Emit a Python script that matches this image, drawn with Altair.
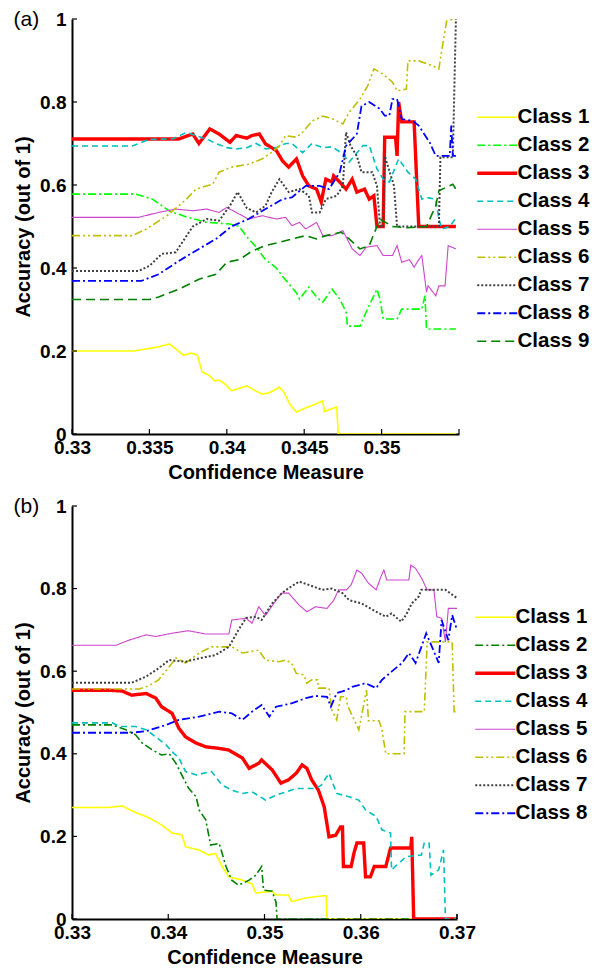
import altair as alt
import pandas as pd

FONT = "Liberation Sans"
Y_TICKS = [0, 0.2, 0.4, 0.6, 0.8, 1]

# ---------------- Panel (a) ----------------
CLASSES_A = ["Class 1", "Class 2", "Class 3", "Class 4", "Class 5",
             "Class 6", "Class 7", "Class 8", "Class 9"]
COLORS_A = ["#ffff00", "#00ff00", "#ff0000", "#00bfbf", "#cc44cc",
            "#bfbf00", "#404040", "#0000ff", "#008000"]
DASHES_A = [[1, 0], [8, 3, 2, 3], [1, 0], [6, 4], [1, 0],
            [8, 3, 2, 3, 2, 3], [2, 2], [8, 3, 2, 3], [9, 5]]
WIDTHS_A = [1.6, 1.6, 3.4, 1.6, 1.1, 1.6, 2.0, 1.8, 1.6]
X_TICKS_A = [0.33, 0.335, 0.34, 0.345, 0.35]
X_DOMAIN_A = [0.33, 0.355]

A1_X = [0.33, 0.334, 0.3356, 0.3363, 0.3367, 0.3372, 0.3377, 0.3381, 0.3384, 0.3389, 0.3392, 0.3395, 0.3399,
        0.3403, 0.3408, 0.3413, 0.3418, 0.3423, 0.3428, 0.3434, 0.3437, 0.3441, 0.3445, 0.3451, 0.3456, 0.3462,
        0.3463, 0.3467, 0.3471, 0.3472, 0.3548]
A1_Y = [0.2, 0.2, 0.21, 0.217, 0.205, 0.19, 0.195, 0.19, 0.15, 0.14, 0.128, 0.13, 0.12,
        0.104, 0.11, 0.116, 0.105, 0.096, 0.10, 0.113, 0.10, 0.07, 0.053, 0.063, 0.07, 0.08,
        0.054, 0.06, 0.065, 0.0, 0.0]

A2_X = [0.33, 0.3341, 0.3352, 0.3363, 0.3374, 0.3387, 0.3402, 0.3408, 0.3413, 0.3419, 0.3425, 0.3432, 0.3436,
        0.3445, 0.3447, 0.3453, 0.3458, 0.3462, 0.3468, 0.3473, 0.3477, 0.3478, 0.3486, 0.3490, 0.3497, 0.3499,
        0.3501, 0.3510, 0.3513, 0.3526, 0.3528, 0.3529, 0.3548]
A2_Y = [0.578, 0.578, 0.566, 0.537, 0.523, 0.51, 0.506, 0.50, 0.475, 0.45, 0.42, 0.40, 0.38,
        0.34, 0.325, 0.354, 0.33, 0.318, 0.349, 0.325, 0.294, 0.26, 0.26, 0.294, 0.349, 0.325,
        0.277, 0.277, 0.301, 0.301, 0.333, 0.253, 0.253]

A3_X = [0.33, 0.3345, 0.3369, 0.3378, 0.3382, 0.3389, 0.3395, 0.3402, 0.3406, 0.3413, 0.3416, 0.3421, 0.3425,
        0.3432, 0.3436, 0.3440, 0.3445, 0.3449, 0.3453, 0.3458, 0.3461, 0.3464, 0.3468, 0.3469, 0.3473, 0.3477,
        0.3481, 0.3484, 0.3489, 0.3492, 0.3495, 0.3497, 0.3501, 0.3502, 0.3509, 0.3510, 0.3511, 0.3513, 0.3521,
        0.3524, 0.3548]
A3_Y = [0.711, 0.711, 0.711, 0.723, 0.70, 0.735, 0.723, 0.703, 0.719, 0.713, 0.719, 0.723, 0.699,
        0.683, 0.658, 0.643, 0.663, 0.622, 0.598, 0.59, 0.559, 0.614, 0.607, 0.622, 0.607, 0.59,
        0.614, 0.583, 0.59, 0.566, 0.574, 0.5, 0.5, 0.715, 0.715, 0.67, 0.80, 0.752, 0.752,
        0.5, 0.5]

A4_X = [0.33, 0.3339, 0.3350, 0.3365, 0.3374, 0.3380, 0.3387, 0.3393, 0.3400, 0.3406, 0.3413, 0.3419, 0.3425,
        0.3432, 0.3438, 0.3442, 0.3449, 0.3455, 0.3462, 0.3468, 0.3475, 0.3479, 0.3488, 0.3492, 0.3497, 0.3501,
        0.3505, 0.3511, 0.3517, 0.3522, 0.3526, 0.3529, 0.3535, 0.3537, 0.3539, 0.3544, 0.3548]
A4_Y = [0.694, 0.694, 0.71, 0.711, 0.727, 0.719, 0.711, 0.70, 0.69, 0.687, 0.69, 0.70, 0.687,
        0.69, 0.70, 0.70, 0.678, 0.70, 0.69, 0.692, 0.675, 0.655, 0.695, 0.695, 0.639, 0.614,
        0.607, 0.663, 0.631, 0.614, 0.566, 0.57, 0.566, 0.518, 0.494, 0.50, 0.52]

A5_X = [0.33, 0.3343, 0.3356, 0.3367, 0.3378, 0.3387, 0.3395, 0.3400, 0.3406, 0.3414, 0.3423, 0.3432, 0.3438,
        0.3442, 0.3447, 0.3451, 0.3458, 0.3462, 0.3468, 0.3475, 0.3481, 0.3486, 0.3490, 0.3497, 0.3501, 0.3507,
        0.3510, 0.3513, 0.3518, 0.3521, 0.3524, 0.3526, 0.3529, 0.3530, 0.3535, 0.3537, 0.3541, 0.3543, 0.3548]
A5_Y = [0.522, 0.522, 0.534, 0.542, 0.538, 0.542, 0.534, 0.546, 0.534, 0.518, 0.526, 0.518, 0.522,
        0.502, 0.51, 0.494, 0.51, 0.478, 0.478, 0.49, 0.446, 0.43, 0.45, 0.454, 0.43, 0.43,
        0.454, 0.414, 0.42, 0.402, 0.42, 0.43, 0.342, 0.357, 0.333, 0.357, 0.357, 0.454, 0.446]

A6_X = [0.33, 0.3339, 0.3348, 0.3361, 0.3374, 0.3380, 0.3391, 0.3395, 0.3403, 0.3414, 0.3423, 0.3429, 0.3434,
        0.3438, 0.3445, 0.3449, 0.3455, 0.3462, 0.3468, 0.3475, 0.3479, 0.3486, 0.3491, 0.3495, 0.3501, 0.3507,
        0.3510, 0.3516, 0.3517, 0.3524, 0.3533, 0.3537, 0.3539, 0.3542, 0.3547, 0.3548]
A6_Y = [0.478, 0.478, 0.494, 0.525, 0.566, 0.59, 0.602, 0.631, 0.643, 0.65, 0.663, 0.679, 0.694,
        0.719, 0.715, 0.727, 0.754, 0.766, 0.76, 0.747, 0.775, 0.807, 0.839, 0.88, 0.867, 0.848,
        0.827, 0.831, 0.899, 0.899, 0.887, 0.88, 0.928, 0.995, 1.0, 1.0]

A7_X = [0.33, 0.3343, 0.3350, 0.3358, 0.3367, 0.3378, 0.3387, 0.3395, 0.3402, 0.3407, 0.3413, 0.3419, 0.3425,
        0.3429, 0.3434, 0.3440, 0.3447, 0.3453, 0.3455, 0.3460, 0.3464, 0.3471, 0.3475, 0.3477, 0.3480, 0.3484,
        0.3487, 0.3494, 0.3497, 0.3499, 0.3501, 0.3502, 0.3508, 0.3510, 0.3537, 0.3538, 0.3546, 0.3548]
A7_Y = [0.393, 0.393, 0.405, 0.434, 0.438, 0.50, 0.518, 0.514, 0.55, 0.583, 0.544, 0.534, 0.55,
        0.583, 0.614, 0.583, 0.59, 0.574, 0.534, 0.534, 0.566, 0.574, 0.598, 0.727, 0.694, 0.67,
        0.631, 0.631, 0.598, 0.5, 0.5, 0.67, 0.598, 0.5, 0.5, 0.667, 0.667, 1.0]

A8_X = [0.33, 0.3345, 0.3356, 0.3369, 0.3382, 0.3393, 0.3403, 0.3414, 0.3425, 0.3436, 0.3442, 0.3451, 0.3460,
        0.3466, 0.3473, 0.3477, 0.3484, 0.3487, 0.3492, 0.3499, 0.3502, 0.3505, 0.3507, 0.3510, 0.3513, 0.3520,
        0.3524, 0.3531, 0.3535, 0.3544, 0.3545, 0.3546, 0.3548]
A8_Y = [0.369, 0.369, 0.385, 0.417, 0.446, 0.47, 0.50, 0.518, 0.542, 0.566, 0.57, 0.598, 0.598,
        0.59, 0.631, 0.694, 0.723, 0.79, 0.80, 0.783, 0.767, 0.767, 0.807, 0.807, 0.759, 0.755,
        0.743, 0.703, 0.67, 0.67, 0.743, 0.67, 0.67]

A9_X = [0.33, 0.3350, 0.3356, 0.3369, 0.3382, 0.3393, 0.3400, 0.3408, 0.3416, 0.3425, 0.3434, 0.3442, 0.3451,
        0.3458, 0.3464, 0.3474, 0.3479, 0.3486, 0.3492, 0.3497, 0.3499, 0.3507, 0.3516, 0.3529, 0.3535, 0.3537,
        0.3546, 0.3548]
A9_Y = [0.324, 0.324, 0.330, 0.349, 0.373, 0.385, 0.414, 0.42, 0.44, 0.454, 0.462, 0.47, 0.478,
        0.47, 0.478, 0.486, 0.47, 0.446, 0.454, 0.50, 0.518, 0.50, 0.497, 0.50, 0.55, 0.586,
        0.602, 0.59]

# ---------------- Panel (b) ----------------
CLASSES_B = ["Class 1", "Class 2", "Class 3", "Class 4", "Class 5",
             "Class 6", "Class 7", "Class 8"]
COLORS_B = ["#ffff00", "#008000", "#ff0000", "#00bfbf", "#cc44cc",
            "#bfbf00", "#404040", "#0000ff"]
DASHES_B = [[1, 0], [8, 3, 2, 3], [1, 0], [6, 4], [1, 0],
            [8, 3, 2, 3, 2, 3], [2, 2], [8, 3, 2, 3]]
WIDTHS_B = [1.6, 1.6, 3.4, 1.6, 1.1, 1.6, 2.0, 1.8]
X_TICKS_B = [0.33, 0.34, 0.35, 0.36, 0.37]
X_DOMAIN_B = [0.33, 0.37]

B1_X = [0.33, 0.3338, 0.3352, 0.3362, 0.3380, 0.3393, 0.3404, 0.3414, 0.3418, 0.3432, 0.3442, 0.3449, 0.3456,
        0.3463, 0.3477, 0.3487, 0.3491, 0.3508, 0.3512, 0.3525, 0.3528, 0.3543, 0.3560, 0.3564, 0.3565, 0.37]
B1_Y = [0.27, 0.27, 0.274, 0.262, 0.245, 0.228, 0.208, 0.204, 0.175, 0.167, 0.155, 0.159, 0.127,
        0.102, 0.094, 0.085, 0.063, 0.067, 0.058, 0.058, 0.042, 0.051, 0.056, 0.056, 0.0, 0.0]

B2_X = [0.33, 0.3342, 0.3356, 0.3366, 0.3373, 0.3383, 0.3393, 0.3401, 0.3408, 0.3414, 0.3421, 0.3429, 0.3432,
        0.3439, 0.3444, 0.3453, 0.3460, 0.3466, 0.3473, 0.3484, 0.3491, 0.3497, 0.3499, 0.3508, 0.3512, 0.3513,
        0.3655]
B2_Y = [0.47, 0.47, 0.458, 0.446, 0.426, 0.41, 0.397, 0.40, 0.377, 0.349, 0.317, 0.296, 0.264,
        0.24, 0.179, 0.183, 0.127, 0.094, 0.082, 0.094, 0.106, 0.127, 0.07, 0.067, 0.04, 0.0,
        0.0]

B3_X = [0.33, 0.3338, 0.3352, 0.3362, 0.3377, 0.3387, 0.3393, 0.3404, 0.3411, 0.3418, 0.3429, 0.3439, 0.3453,
        0.3463, 0.3477, 0.3484, 0.3494, 0.3497, 0.3508, 0.3517, 0.3525, 0.3533, 0.3539, 0.3544, 0.3549, 0.3556,
        0.3562, 0.3567, 0.3574, 0.3579, 0.3581, 0.3582, 0.3590, 0.3593, 0.3596, 0.3603, 0.3605, 0.3610, 0.3614,
        0.3626, 0.3631, 0.3652, 0.3653, 0.3655, 0.37]
B3_Y = [0.554, 0.554, 0.552, 0.542, 0.546, 0.535, 0.514, 0.498, 0.462, 0.441, 0.426, 0.417, 0.413,
        0.409, 0.39, 0.365, 0.377, 0.385, 0.361, 0.329, 0.337, 0.353, 0.373, 0.365, 0.337, 0.312,
        0.272, 0.199, 0.203, 0.223, 0.223, 0.127, 0.127, 0.16, 0.184, 0.184, 0.102, 0.102, 0.127,
        0.127, 0.172, 0.172, 0.199, 0.0, 0.0]

B4_X = [0.33, 0.3342, 0.3349, 0.3366, 0.3377, 0.3387, 0.3398, 0.3404, 0.3411, 0.3418, 0.3429, 0.3445, 0.3456,
        0.3466, 0.3477, 0.3487, 0.3501, 0.3512, 0.3533, 0.3553, 0.3559, 0.3567, 0.3575, 0.3588, 0.3598, 0.3605,
        0.3616, 0.3622, 0.3631, 0.3632, 0.3647, 0.3663, 0.3666, 0.3671, 0.3673, 0.3681, 0.3686, 0.3688, 0.37]
B4_Y = [0.475, 0.475, 0.466, 0.466, 0.458, 0.441, 0.421, 0.405, 0.39, 0.357, 0.349, 0.357, 0.324,
        0.312, 0.304, 0.308, 0.288, 0.30, 0.316, 0.316, 0.324, 0.353, 0.304, 0.296, 0.288, 0.264,
        0.248, 0.216, 0.208, 0.119, 0.151, 0.155, 0.184, 0.184, 0.106, 0.119, 0.167, 0.0, 0.0]

B5_X = [0.33, 0.3346, 0.3359, 0.3377, 0.3387, 0.3404, 0.3421, 0.3439, 0.3463, 0.3466, 0.3481, 0.3487, 0.3494,
        0.3501, 0.3512, 0.3518, 0.3525, 0.3536, 0.3544, 0.3553, 0.3565, 0.3572, 0.3577, 0.3585, 0.3590, 0.3596,
        0.3601, 0.3608, 0.3616, 0.3621, 0.3624, 0.3627, 0.3650, 0.3652, 0.3657, 0.3663, 0.3669, 0.3676, 0.3679,
        0.3684, 0.3688, 0.3691, 0.37]
B5_Y = [0.663, 0.663, 0.675, 0.688, 0.684, 0.692, 0.698, 0.69, 0.69, 0.724, 0.728, 0.716, 0.756,
        0.735, 0.772, 0.789, 0.789, 0.76, 0.744, 0.756, 0.752, 0.772, 0.797, 0.797, 0.809, 0.845,
        0.837, 0.813, 0.797, 0.829, 0.845, 0.821, 0.821, 0.857, 0.849, 0.826, 0.797, 0.797, 0.732,
        0.728, 0.671, 0.752, 0.752]

B6_X = [0.33, 0.3370, 0.3380, 0.3390, 0.3401, 0.3408, 0.3418, 0.3432, 0.3445, 0.3466, 0.3477, 0.3494, 0.3501,
        0.3515, 0.3522, 0.3528, 0.3533, 0.3541, 0.3544, 0.3549, 0.3555, 0.3556, 0.3567, 0.3570, 0.3575, 0.3579,
        0.3585, 0.3586, 0.3598, 0.3606, 0.3608, 0.3619, 0.3622, 0.3626, 0.3645, 0.3646, 0.3666, 0.3669, 0.3695,
        0.3697, 0.37]
B6_Y = [0.557, 0.557, 0.565, 0.579, 0.611, 0.632, 0.62, 0.644, 0.659, 0.659, 0.644, 0.651, 0.627,
        0.623, 0.627, 0.62, 0.595, 0.591, 0.571, 0.579, 0.579, 0.559, 0.559, 0.506, 0.482, 0.538,
        0.538, 0.518, 0.458, 0.554, 0.48, 0.48, 0.458, 0.40, 0.40, 0.502, 0.502, 0.671, 0.671,
        0.502, 0.502]

B7_X = [0.33, 0.3362, 0.3377, 0.3390, 0.3401, 0.3418, 0.3432, 0.3449, 0.3463, 0.3473, 0.3481, 0.3491, 0.3497,
        0.3508, 0.3518, 0.3525, 0.3536, 0.3546, 0.3560, 0.3570, 0.3581, 0.3588, 0.3601, 0.3616, 0.3626, 0.3632,
        0.3642, 0.3647, 0.3653, 0.3660, 0.3663, 0.3688, 0.37]
B7_Y = [0.572, 0.572, 0.587, 0.607, 0.627, 0.623, 0.631, 0.639, 0.659, 0.70, 0.729, 0.732, 0.724,
        0.764, 0.789, 0.801, 0.817, 0.809, 0.797, 0.80, 0.789, 0.772, 0.764, 0.744, 0.732, 0.74,
        0.72, 0.736, 0.764, 0.78, 0.797, 0.797, 0.777]

B8_X = [0.33, 0.3362, 0.3377, 0.3398, 0.3411, 0.3432, 0.3453, 0.3466, 0.3477, 0.3487, 0.3497, 0.3505, 0.3512,
        0.3528, 0.3543, 0.3553, 0.3565, 0.3569, 0.3575, 0.3585, 0.3591, 0.3605, 0.3616, 0.3622, 0.3632, 0.3643,
        0.3650, 0.3657, 0.3663, 0.3668, 0.3674, 0.3681, 0.3684, 0.3691, 0.3695, 0.37]
B8_Y = [0.451, 0.451, 0.455, 0.47, 0.482, 0.49, 0.502, 0.498, 0.482, 0.502, 0.518, 0.49, 0.514,
        0.522, 0.535, 0.54, 0.538, 0.514, 0.547, 0.554, 0.562, 0.571, 0.559, 0.579, 0.599, 0.62,
        0.644, 0.62, 0.659, 0.692, 0.659, 0.62, 0.724, 0.675, 0.736, 0.70]

SERIES_A = [(A1_X, A1_Y), (A2_X, A2_Y), (A3_X, A3_Y), (A4_X, A4_Y), (A5_X, A5_Y),
            (A6_X, A6_Y), (A7_X, A7_Y), (A8_X, A8_Y), (A9_X, A9_Y)]
SERIES_B = [(B1_X, B1_Y), (B2_X, B2_Y), (B3_X, B3_Y), (B4_X, B4_Y), (B5_X, B5_Y),
            (B6_X, B6_Y), (B7_X, B7_Y), (B8_X, B8_Y)]


def build_df(series, names, widths):
    rows = []
    for name, wd, (xs, ys) in zip(names, widths, series):
        for i, (x, y) in enumerate(zip(xs, ys)):
            rows.append({"cls": name, "x": x, "y": y, "i": i, "w": wd})
    return pd.DataFrame(rows)


def width_expr(classes, widths):
    parts = []
    for c, wd in zip(classes, widths):
        parts.append(f"datum.value === '{c}' ? {wd} : ")
    return "".join(parts) + "1.6"


def panel(series, label, classes, colors, dashes, widths, xdom, xticks, w, h, lx, ly):
    df = build_df(series, classes, widths)
    xs = alt.Scale(domain=xdom, nice=False, zero=False)
    ys = alt.Scale(domain=[0, 1], nice=False, zero=False)
    x_axis = alt.Axis(values=xticks, format=".3~f", title="Confidence Measure")
    y_axis = alt.Axis(values=Y_TICKS, format=".1~f", title="Accuracy (out of 1)")
    leg = alt.Legend(title=None, orient="none", legendX=lx, legendY=ly,
                     symbolType="stroke", symbolSize=1600, labelFontSize=20.5,
                     labelFont=FONT, labelFontWeight="bold", labelColor="black",
                     rowPadding=7, labelOffset=10,
                     symbolStrokeWidth=alt.ExprRef(expr=width_expr(classes, widths)))
    lines = alt.Chart(df).mark_line(clip=True).encode(
        x=alt.X("x:Q", scale=xs, axis=x_axis),
        y=alt.Y("y:Q", scale=ys, axis=y_axis),
        color=alt.Color("cls:N", scale=alt.Scale(domain=classes, range=colors), legend=leg),
        strokeDash=alt.StrokeDash("cls:N", scale=alt.Scale(domain=classes, range=dashes), legend=leg),
        strokeWidth=alt.StrokeWidth("w:Q", scale=None, legend=None),
        order=alt.Order("i:Q"),
    )
    xt = alt.Chart(pd.DataFrame({"x": xticks + [xdom[1]]})).mark_rule(
        color="black", strokeWidth=1.2).encode(
        x=alt.X("x:Q", scale=xs, axis=x_axis),
        y=alt.value(h), y2=alt.value(h - 5))
    yt = alt.Chart(pd.DataFrame({"y": Y_TICKS})).mark_rule(
        color="black", strokeWidth=1.2).encode(
        y=alt.Y("y:Q", scale=ys, axis=y_axis),
        x=alt.value(0), x2=alt.value(5))
    return alt.layer(lines, xt, yt).properties(
        width=w, height=h,
        title=alt.TitleParams(label, anchor="start", frame="bounds", fontSize=21,
                              fontWeight="normal", font=FONT, color="black", offset=-20),
    )


pa = panel(SERIES_A, "(a)", CLASSES_A, COLORS_A, DASHES_A, WIDTHS_A,
           X_DOMAIN_A, X_TICKS_A, 387, 415, 415, 88)
pb = panel(SERIES_B, "(b)", CLASSES_B, COLORS_B, DASHES_B, WIDTHS_B,
           X_DOMAIN_B, X_TICKS_B, 385, 413, 413, 101)

chart = alt.vconcat(pa, pb, spacing=14).resolve_scale(
    x="independent", y="independent", color="independent",
    strokeDash="independent"
).resolve_legend(
    color="independent", strokeDash="independent"
).configure_view(stroke=None).configure_axis(
    domainColor="black", domainWidth=2, ticks=False, grid=False,
    labelFont=FONT, labelFontSize=19, labelFontWeight="bold", labelColor="black",
    labelFlush=False, labelOverlap=False,
    titleFont=FONT, titleFontSize=20, titleFontWeight="bold", titleColor="black",
).configure_axisX(labelPadding=4, titlePadding=5).configure_axisY(
    labelPadding=6, titlePadding=6).properties(
    padding={"left": 13, "top": 9, "right": 0, "bottom": 0},
    background="white",
)

chart.save("out.html", embed_options={"renderer": "svg", "actions": False})
